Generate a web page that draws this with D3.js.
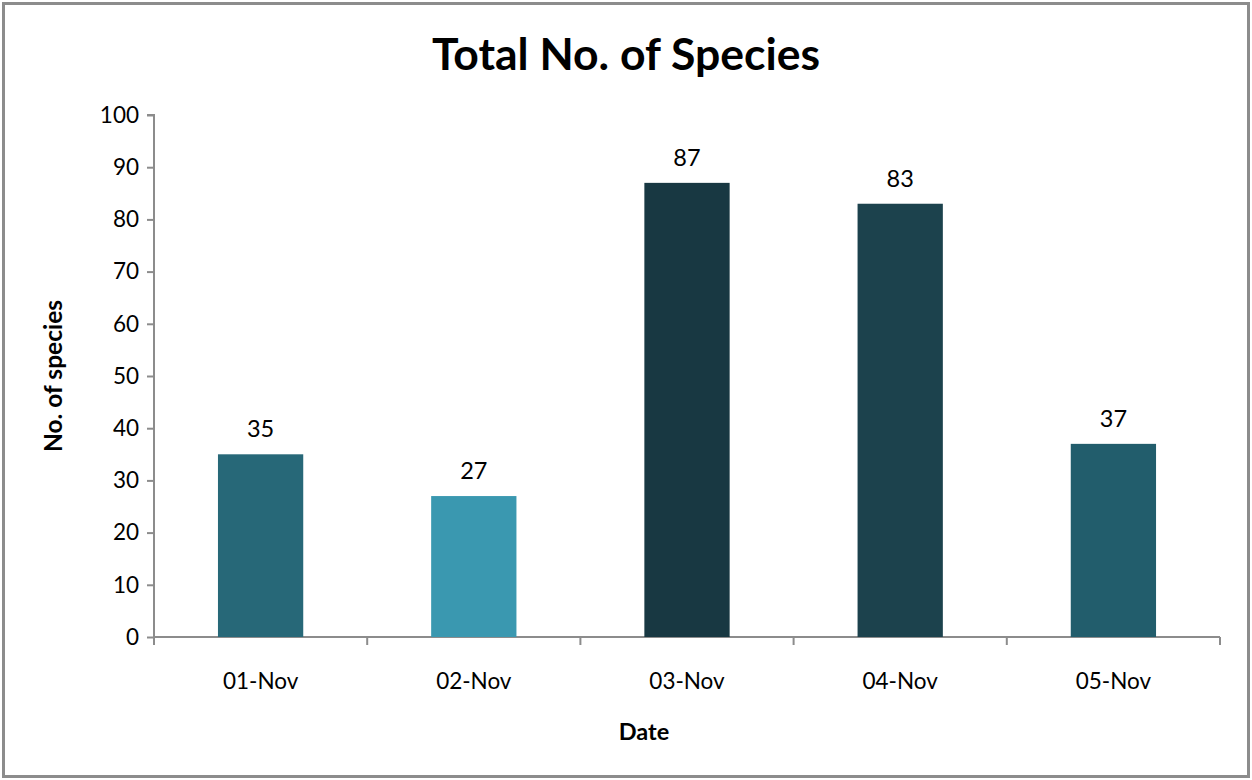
<!DOCTYPE html>
<html><head><meta charset="utf-8">
<script src="https://cdn.jsdelivr.net/npm/d3@7"></script>
<style>body{margin:0;background:#fff;} svg{display:block;} text{font-family:Lato,"Open Sans",sans-serif;}</style>
</head><body>
<svg id="c" width="1252" height="780"></svg>
<script>
const categories = ["01-Nov","02-Nov","03-Nov","04-Nov","05-Nov"];
const values = [35,27,87,83,37];
const barColors = ["#276878","#3a98b0","#183842","#1c424d","#225d6c"];
const yTicks = [0,10,20,30,40,50,60,70,80,90,100];

(function(){
const svg = d3.select("#c");
svg.append("rect").attr("x",3.5).attr("y",3.5).attr("width",1245).attr("height",773)
  .attr("fill","#fff").attr("stroke","#8c8c8c").attr("stroke-width",3);

const pl=154,pr=1220,pt=115,pb=637;
const x = d3.scaleBand().domain(categories).range([pl,pr]).paddingInner(0.6).paddingOuter(0.3);
const y = d3.scaleLinear().domain([0,100]).range([pb,pt]);

const ya = svg.append("g").attr("transform",`translate(${pl},0)`)
  .call(d3.axisLeft(y).tickValues(yTicks).tickSize(7).tickPadding(8));
ya.select(".domain").attr("stroke","#8c8c8c").attr("stroke-width",2).attr("d",`M-7,${pt}H0V${pb}`);
ya.selectAll(".tick line").attr("stroke","#8c8c8c").attr("stroke-width",2);
ya.selectAll(".tick text").attr("font-size",22.5).attr("fill","#000").attr("font-family","Lato,'Open Sans',sans-serif");

const xg = svg.append("g");
xg.append("line").attr("x1",pl).attr("x2",pr).attr("y1",pb).attr("y2",pb).attr("stroke","#8c8c8c").attr("stroke-width",2);
const bounds = d3.range(categories.length+1).map(i=>pl+i*(pr-pl)/categories.length);
xg.selectAll("line.b").data(bounds).join("line").attr("class","b")
  .attr("x1",d=>d).attr("x2",d=>d).attr("y1",pb).attr("y2",pb+8).attr("stroke","#8c8c8c").attr("stroke-width",2);
xg.selectAll("text").data(categories).join("text")
  .attr("x",d=>x(d)+x.bandwidth()/2).attr("y",689).attr("text-anchor","middle").attr("font-size",22.5).attr("fill","#000").text(d=>d);

svg.selectAll("rect.bar").data(values).join("rect").attr("class","bar")
  .attr("x",(d,i)=>x(categories[i])).attr("width",x.bandwidth())
  .attr("y",d=>y(d)).attr("height",d=>pb-y(d)).attr("fill",(d,i)=>barColors[i]);
svg.selectAll("text.val").data(values).join("text").attr("class","val")
  .attr("x",(d,i)=>x(categories[i])+x.bandwidth()/2).attr("y",d=>y(d)-17)
  .attr("text-anchor","middle").attr("font-size",23.5).attr("fill","#000").text(d=>d);

svg.append("text").attr("x",626).attr("y",70).attr("text-anchor","middle").attr("font-size",44.5).attr("font-weight","bold").text("Total No. of Species");
svg.append("text").attr("x",644).attr("y",740).attr("text-anchor","middle").attr("font-size",23.5).attr("font-weight","bold").text("Date");
svg.append("text").attr("transform","translate(62,376) rotate(-90)").attr("text-anchor","middle").attr("font-size",24.5).attr("font-weight","bold").text("No. of species");
})();
</script>
</body></html>
